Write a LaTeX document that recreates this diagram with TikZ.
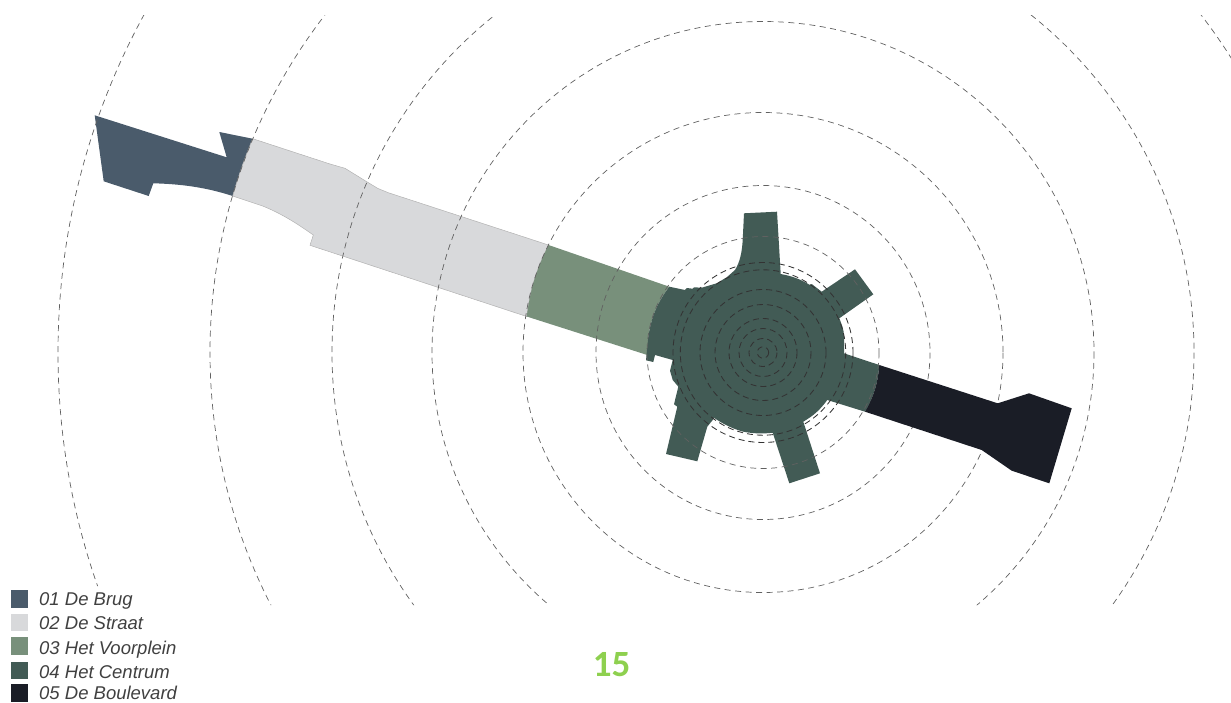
\documentclass[tikz,border=0pt]{standalone}
\usepackage{fontspec}
\setmainfont{Liberation Sans}
\newfontfamily\pagefont{Carlito}
\definecolor{brug}{HTML}{4A5B6B}
\definecolor{straat}{HTML}{D8D9DB}
\definecolor{voorplein}{HTML}{78907B}
\definecolor{centrum}{HTML}{425B55}
\definecolor{boulevard}{HTML}{1A1D26}
\definecolor{pagegreen}{HTML}{8ED04F}
\tikzset{
  ring/.style={draw=black!62,line width=0.7pt,dash pattern=on 6pt off 4.5pt},
  innerring/.style={draw=black!80,line width=0.85pt,dash pattern=on 6pt off 4pt},
  swatch/.style={minimum size=17.5pt,inner sep=0pt,outer sep=0pt},
  legendtext/.style={anchor=base west,inner sep=0pt,text=black!75,font=\fontsize{18.5}{20}\selectfont\itshape}
}
\begin{document}
\begin{tikzpicture}[x=1pt,y=-1pt]
\useasboundingbox (0,0) rectangle (1231,702);
% zones
\fill[brug] (94.7,115.3) -- (226.7,157.3) -- (219.3,132) -- (252.7,138.7) to[bend right=3] (232.7,196) .. controls (205,187) and (180,184) .. (153.3,183.3) -- (148.7,196) -- (103.7,181.3) -- cycle;
\draw[fill=straat,draw=black!30,line width=0.5pt] (252.7,138.7) -- (330,164) -- (345,168.3) -- (366.7,181.7) -- (378,188.5) -- (388.3,192.7) -- (548.5,245) to[bend right=9] (526.7,316.5) -- (310,245.3) -- (313.3,235) .. controls (295,222) and (280,213) .. (262.7,206) -- (232.7,196) to[bend left=3] cycle;
\fill[voorplein] (548.5,245) -- (669.3,286.7) to[bend right=13.5] (648.3,336.7) -- (647.3,355) -- (526.7,316.5) to[bend left=9] cycle;
\fill[centrum] (669.3,286.7) -- (685,290) -- (686.7,288) -- (692.7,288.7) -- (694,287.3) -- (701.7,287.7) -- (716.7,283.3) -- (726.7,277.3) -- (735,270) .. controls (740,262) and (742,252) .. (742.7,240) -- (744,213.3) -- (777,211.7) -- (780.7,274) to[bend left=10] (810,285) -- (811.7,284) -- (821.7,291.7) -- (855,269.3) -- (873.3,294.3) -- (839.3,318.3) .. controls (842,325) and (844,330) .. (844,336.7) -- (844,353.3) -- (879.3,365) to[bend left=12] (865,411.7) -- (827.3,400) to[bend left=11] (803.3,421.7) -- (820,473.3) -- (789.3,483.3) -- (772.7,432.7) .. controls (762,434) and (753,433.5) .. (743.3,431.7) .. controls (733,429) and (723,424) .. (714.3,418) -- (707.3,426.7) -- (697.3,461.3) -- (666,454) -- (677.3,406.7) -- (674,404.3) -- (678.3,386.7) -- (672.7,380) -- (670,370.7) -- (672.7,360) -- (655,355) -- (653.3,362) -- (646,360.3) -- (648.3,336.7) to[bend left=13.5] cycle;
% rings
\begin{scope}
\clip (0,15) -- (1231,15) -- (1231,605) -- (200,605) -- (200,586) -- (0,586) -- cycle;
\draw[innerring] (763,352.5) circle[radius=5.7];
\draw[innerring] (763,352.5) circle[radius=14];
\draw[innerring] (763,352.5) circle[radius=24];
\draw[innerring] (763,352.5) circle[radius=34];
\draw[innerring] (763,352.5) circle[radius=48];
\draw[innerring] (763,352.5) circle[radius=63];
\draw[innerring] (763,352.5) circle[radius=82.7];
\draw[innerring] (763,352.5) circle[radius=90];
\draw[ring] (763,352.5) circle[radius=116];
\draw[ring] (763,352.5) circle[radius=167];
\draw[ring] (763,352.5) circle[radius=240];
\draw[ring] (763,352.5) circle[radius=331];
\draw[ring] (763,352.5) circle[radius=431];
\draw[ring] (763,352.5) circle[radius=553];
\draw[ring] (763,352.5) circle[radius=705];
\end{scope}
\fill[boulevard] (879.3,365) -- (997.7,403.3) -- (1029,393.3) -- (1071.7,408.3) -- (1049.3,483.3) -- (1011.7,470.7) -- (981.7,450) -- (865,411.7) to[bend right=12] cycle;
% legend
\node[swatch,fill=brug] (swbrug) at (19.3,599.2) {};
\node[swatch,fill=straat] (swstraat) at (19.3,622.5) {};
\node[swatch,fill=voorplein] (swvoorplein) at (19.3,646) {};
\node[swatch,fill=centrum] (swcentrum) at (19.3,670.5) {};
\node[swatch,fill=boulevard] (swboulevard) at (19.3,693.2) {};
\node[legendtext] (lbrug) at (39,605.3) {01 De Brug};
\node[legendtext] (lstraat) at (39,629.3) {02 De Straat};
\node[legendtext] (lvoorplein) at (39,654) {03 Het Voorplein};
\node[legendtext] (lcentrum) at (39,678) {04 Het Centrum};
\node[legendtext] (lboulevard) at (39,699.5) {05 De Boulevard};
\node[text=pagegreen,font=\pagefont\bfseries\fontsize{37}{37}\selectfont] (pagenr) at (611.5,665) {15};
\end{tikzpicture}
\end{document}
